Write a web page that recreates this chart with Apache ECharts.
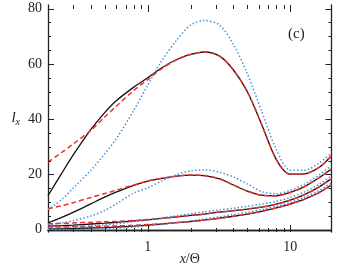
<!DOCTYPE html>
<html><head><meta charset="utf-8">
<script src="https://cdn.jsdelivr.net/npm/echarts@6/dist/echarts.min.js"></script>
<style>html,body{margin:0;padding:0;background:#fff}#c{width:338px;height:266px}</style>
</head><body><div id="c"></div>
<script>
const xVals = [0.2,0.25,0.3,0.4,0.5,0.6,0.8,1,1.25,1.6,2,2.5,3.2,4,5,6.3,8,10,12.5,16,19.5];

const blackA = [12.3,20.5,27,36.3,42.4,46.6,51.6,55,58.5,61.6,63.4,64.3,62.8,57.8,50,38.2,25.4,20.1,20.2,22.6,26.8];
const redA   = [24.5,28,31,36,40.8,44.6,50.4,54.3,58.2,61.5,63.4,64.3,62.8,57.8,50,38.2,25.4,20.1,20.2,22.6,26.8];
const blueA  = [7.3,11,15,21.5,27.5,32.8,43.2,52.3,61,68.6,74,75.7,74,67,56.5,43,29,21.6,21.5,24.2,27.8];

const blackB = [2.5,4.5,6.3,9.4,11.8,13.6,16.1,17.6,18.6,19.4,19.8,19.6,18.4,16.2,14,12.5,12.3,13.5,15.5,18.9,22];
const redB   = [7.6,8.7,9.8,11.7,13.1,14.3,16.2,17.6,18.6,19.4,19.8,19.6,18.4,16.2,14,12.5,12.3,13.5,15.5,18.9,22];
const blueB  = [1.8,2.5,3.3,5,7,9.3,13.3,15.2,17.6,20,21.3,21.7,20.8,19.1,16.6,13.8,13,14.3,16.4,19.9,23.2];

const blackC = [1.3,1.5,1.7,2.1,2.4,2.7,3.2,3.6,4.1,4.7,5.2,5.7,6.4,6.9,7.5,8.2,9.3,10.7,12.6,15.5,18.5];
const redC   = [2.2,2.3,2.5,2.7,2.9,3,3.35,3.7,4.1,4.7,5.2,5.7,6.4,6.9,7.5,8.2,9.3,10.7,12.6,15.5,18.5];
const blueC  = [0.6,0.8,1,1.4,1.8,2.2,2.9,3.5,4.3,5.1,5.8,6.5,7.2,7.8,8.5,9.3,10.3,11.7,13.6,16.5,19.6];

const blackD = [0.3,0.35,0.45,0.65,0.8,1,1.35,1.7,2.1,2.6,3,3.5,4.2,4.9,5.7,6.7,7.9,9.3,11,13.5,16.2];
const redD   = [1,1,1.1,1.2,1.3,1.4,1.6,1.9,2.2,2.6,3,3.5,4.2,4.9,5.7,6.7,7.9,9.3,11,13.5,16.2];
const blueD  = [0,0.05,0.1,0.3,0.4,0.6,1,1.4,1.9,2.6,3.2,3.9,4.7,5.5,6.3,7.3,8.5,9.9,11.7,14.2,17];

const xMajorTicks = [1,10];
const xMinorTicks = [0.3,0.4,0.5,0.6,0.7,0.8,0.9,2,3,4,5,6,7,8,9];
const yMajorTicks = [0,20,40,60,80];
const yMinorTicks = [5,10,15,25,30,35,45,50,55,65,70,75];

const X_MIN = 0.2, X_MAX = 19.5, Y_MIN = -0.8, Y_MAX = 81.3;
const FONT = 'Liberation Serif';
const AX = '#222';
const chart = echarts.init(document.getElementById('c'), null, {renderer:'canvas'});

function mk(vals, kind) {
  const data = xVals.map((x,i)=>[x, vals[i]]);
  let ls;
  if (kind==='k') ls = {color:'#111', width:1.3, type:'solid'};
  else if (kind==='r') ls = {color:'#f0302c', width:1.5, type:[5,3]};
  else ls = {color:'#3a8fd8', width:1.5, type:[1.4,2.2]};
  return {type:'line', data, showSymbol:false, smooth:0.3, lineStyle:ls, silent:true, animation:false, z: kind==='k'?2:(kind==='r'?3:4)};
}

const xTickData = xMajorTicks.map(v=>[v, Y_MIN, 7]).concat(xMinorTicks.map(v=>[v, Y_MIN, 4]));
const yTickData = yMajorTicks.map(v=>[X_MIN, v, 6]).concat(yMinorTicks.map(v=>[X_MIN, v, 3]));

const tickStyle = {stroke:AX, lineWidth:1, fill:null};
const xTickSeries = {
  type:'custom', coordinateSystem:'cartesian2d', data:xTickData, encode:{x:0, y:1}, clip:false, silent:true, z:5,
  renderItem:(p, api)=>{
    const v = api.value(0), len = api.value(2);
    const b = api.coord([v, Y_MIN]), t = api.coord([v, Y_MAX]);
    const x = Math.round(b[0]) + 0.5;
    return {type:'group', children:[
      {type:'line', shape:{x1:x, y1:b[1], x2:x, y2:b[1]-len}, style:tickStyle},
      {type:'line', shape:{x1:x, y1:t[1], x2:x, y2:t[1]+len}, style:tickStyle}
    ]};
  }
};
const yTickSeries = {
  type:'custom', coordinateSystem:'cartesian2d', data:yTickData, encode:{x:0, y:1}, clip:false, silent:true, z:5,
  renderItem:(p, api)=>{
    const v = api.value(1), len = api.value(2);
    const l = api.coord([X_MIN, v]), r = api.coord([X_MAX, v]);
    const y = Math.round(l[1]) + 0.5;
    return {type:'group', children:[
      {type:'line', shape:{x1:l[0], y1:y, x2:l[0]+len, y2:y}, style:tickStyle},
      {type:'line', shape:{x1:r[0], y1:y, x2:r[0]-len, y2:y}, style:tickStyle}
    ]};
  }
};

const series = [
  mk(blackA,'k'), mk(blackB,'k'), mk(blackC,'k'), mk(blackD,'k'),
  mk(redA,'r'), mk(redB,'r'), mk(redC,'r'), mk(redD,'r'),
  mk(blueA,'b'), mk(blueB,'b'), mk(blueC,'b'), mk(blueD,'b'),
  xTickSeries, yTickSeries
];

const lbl = {fontSize:14, fontFamily:FONT, color:'#222'};

chart.setOption({
  animation:false,
  textStyle:{fontFamily:FONT, color:'#222', fontSize:14},
  grid:{left:48, top:5, width:283.5, height:227, containLabel:false, outerBoundsMode:'none'},
  xAxis:[
    {type:'log', logBase:10, min:X_MIN, max:X_MAX, position:'bottom',
     splitLine:{show:false}, minorTick:{show:false},
     axisLine:{show:true, lineStyle:{color:AX, width:1.3}},
     axisTick:{show:false},
     axisLabel:Object.assign({show:true, margin:8, showMinLabel:false, showMaxLabel:false,
       formatter:v=> (Math.abs(v-1)<1e-9 ? '1' : (Math.abs(v-10)<1e-9 ? '10' : ''))}, lbl),
     name:'{i|x}/Θ', nameLocation:'middle', nameGap:20, nameMoveOverlap:false,
     nameTextStyle:Object.assign({rich:{i:Object.assign({fontStyle:'italic'}, lbl)}}, lbl)
    },
    {type:'log', logBase:10, min:X_MIN, max:X_MAX, position:'top',
     splitLine:{show:false}, axisTick:{show:false}, axisLabel:{show:false},
     axisLine:{show:true, lineStyle:{color:AX, width:1.3}}}
  ],
  yAxis:[
    {type:'value', min:Y_MIN, max:Y_MAX, position:'left', splitNumber:4,
     splitLine:{show:false}, axisTick:{show:false},
     axisLine:{show:true, lineStyle:{color:AX, width:1.3}},
     axisLabel:Object.assign({show:true, margin:6, showMinLabel:false, showMaxLabel:false,
       formatter:v=> (yMajorTicks.indexOf(v) >= 0 ? String(v) : '')}, lbl),
     name:'{i|l}{s|x}', nameLocation:'middle', nameGap:28, nameRotate:0, nameMoveOverlap:false,
     nameTextStyle:Object.assign({rich:{
        i:{fontStyle:'italic', fontSize:15, fontFamily:FONT, color:'#222'},
        s:{fontStyle:'italic', fontSize:10, fontFamily:FONT, color:'#222', padding:[8,0,0,0]}
     }}, lbl)
    },
    {type:'value', min:Y_MIN, max:Y_MAX, position:'right',
     splitLine:{show:false}, axisTick:{show:false}, axisLabel:{show:false},
     axisLine:{show:true, lineStyle:{color:AX, width:1.3}}}
  ],
  graphic:[{type:'text', left:288, top:27, style:{text:'(c)', font:'15px "Liberation Serif"', fill:'#222'}}],
  series
});
</script></body></html>
